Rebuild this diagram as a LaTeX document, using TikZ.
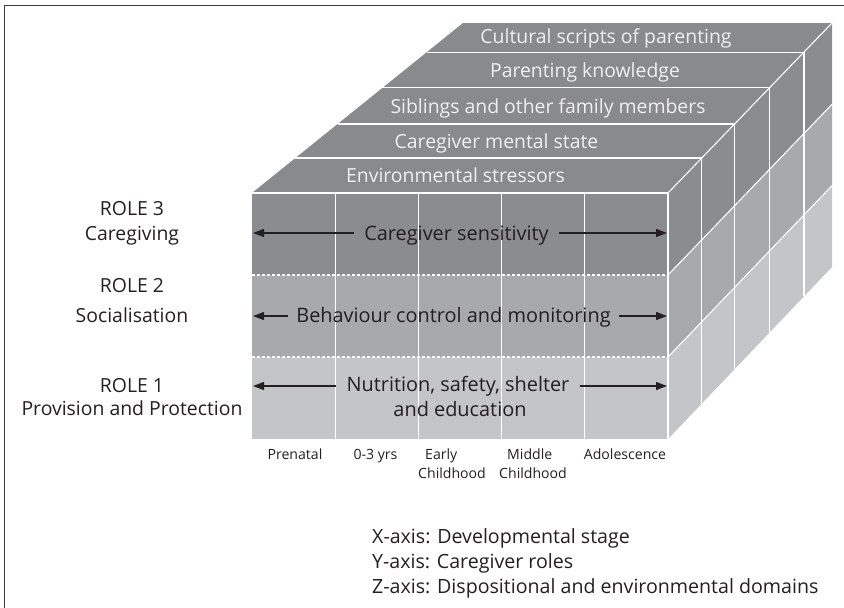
\documentclass[tikz,border=0pt]{standalone}
\usepackage{fontspec}
\setmainfont{Open Sans}
\usetikzlibrary{arrows.meta}
\definecolor{topgray}{HTML}{898A8C}
\definecolor{rowA}{HTML}{8B8C8E}
\definecolor{rowB}{HTML}{A8A9AB}
\definecolor{rowC}{HTML}{C4C5C7}
\definecolor{ink}{HTML}{231F20}
\definecolor{framec}{HTML}{3C3C3C}
\begin{document}
\begin{tikzpicture}[x=1pt,y=-1pt,
  wl/.style={white,line width=1.1pt},
  wd/.style={white,line width=1.1pt,dash pattern=on 3pt off 2pt},
  arr/.style={ink,line width=1.3pt,-{Triangle[length=11pt,width=8pt]}},
  toplab/.style={text=white!94!black,font=\fontsize{19.4}{19.4}\selectfont,anchor=base,inner sep=0pt},
  rowlab/.style={text=ink,font=\fontsize{19.9}{19.9}\selectfont,anchor=base,inner sep=0pt},
  rolelab/.style={text=ink,font=\fontsize{19.4}{19.4}\selectfont,anchor=base,inner sep=0pt},
  stagelab/.style={text=ink,font=\fontsize{14.1}{14.1}\selectfont,inner sep=0pt},
  legendlab/.style={text=ink,font=\fontsize{19.6}{19.6}\selectfont,anchor=base west,inner sep=0pt}
]
\useasboundingbox (0,0) rectangle (844,608);
% frame
\draw[framec,line width=1.4pt] (4.7,608) -- (4.7,5.5) -- (844,5.5);
% cube grid points p-i-j-k : i column, j row, k depth
\foreach \d [count=\k from 0] in {0,0.206,0.406,0.618,0.829,1} {
  \foreach \i in {0,...,5} {
    \foreach \j in {0,...,3} {
      \pgfmathsetmacro\px{(1-\d)*(252+83.2*\i)+\d*(463+73.8*\i)}
      \pgfmathsetmacro\py{(1-\d)*(193+82*\j)+\d*(23+81.333*\j)}
      \coordinate (p-\i-\j-\k) at (\px,\py);
    }
  }
}
% faces
\fill[topgray] (p-0-0-0) -- (p-5-0-0) -- (p-5-0-5) -- (p-0-0-5) -- cycle;
\fill[rowA] (p-0-0-0) rectangle (p-5-1-0);
\fill[rowB] (p-0-1-0) rectangle (p-5-2-0);
\fill[rowC] (p-0-2-0) rectangle (p-5-3-0);
\fill[rowA] (p-5-0-0) -- (p-5-0-5) -- (p-5-1-5) -- (p-5-1-0) -- cycle;
\fill[rowB] (p-5-1-0) -- (p-5-1-5) -- (p-5-2-5) -- (p-5-2-0) -- cycle;
\fill[rowC] (p-5-2-0) -- (p-5-2-5) -- (p-5-3-5) -- (p-5-3-0) -- cycle;
% white lines
\foreach \k in {0,...,4} \draw[wl] (p-0-0-\k) -- (p-5-0-\k);
\draw[wl] (p-5-0-0) -- (p-5-0-5);
\foreach \i in {1,...,5} \draw[wl] (p-\i-0-0) -- (p-\i-3-0);
\foreach \j in {1,2} \draw[wd] (p-0-\j-0) -- (p-5-\j-0);
\foreach \k in {1,...,4} \draw[wl] (p-5-0-\k) -- (p-5-3-\k);
\foreach \j in {1,2} \draw[wl] (p-5-\j-0) -- (p-5-\j-5);
% top face labels
\node[toplab] (z5) at (606,43) {Cultural scripts of parenting};
\node[toplab] (z4) at (585,77) {Parenting knowledge};
\node[toplab] (z3) at (548,113) {Siblings and other family members};
\node[toplab] (z2) at (496.5,148) {Caregiver mental state};
\node[toplab] (z1) at (455.5,182) {Environmental stressors};
% role labels
\node[rolelab] (r3a) at (132,215) {ROLE 3};
\node[rolelab] (r3b) at (132,240) {Caregiving};
\node[rolelab] (r2a) at (132,292) {ROLE 2};
\node[rolelab] (r2b) at (132,322) {Socialisation};
\node[rolelab] (r1a) at (132,392) {ROLE 1};
\node[rolelab] (r1b) at (132,415) {Provision and Protection};
% row labels with arrows
\node[rowlab,inner xsep=10pt] (c3) at (456.5,240) {Caregiver sensitivity};
\node[rowlab,inner xsep=8pt] (c2) at (453.5,322) {Behaviour control and monitoring};
\node[rowlab,inner xsep=10pt] (c1) at (458,391) {Nutrition, safety, shelter};
\node[rowlab] (c1b) at (460,416) {and education};
\coordinate (t3l) at (253,233);
\coordinate (t3r) at (667,233);
\coordinate (t2l) at (253,316);
\coordinate (t2r) at (667,316);
\coordinate (t1l) at (253,386);
\coordinate (t1r) at (667,386);
\draw[arr] (c3.west |- t3l) -- (t3l);
\draw[arr] (c3.east |- t3r) -- (t3r);
\draw[arr] (c2.west |- t2l) -- (t2l);
\draw[arr] (c2.east |- t2r) -- (t2r);
\draw[arr] (c1.west |- t1l) -- (t1l);
\draw[arr] (c1.east |- t1r) -- (t1r);
% stage labels
\node[stagelab,anchor=base] (s1) at (295,459) {Prenatal};
\node[stagelab,anchor=base] (s2) at (375.5,459) {0-3 yrs};
\node[stagelab,anchor=base west] (s3a) at (425,459) {Early};
\node[stagelab,anchor=base west] (s3b) at (418,478) {Childhood};
\node[stagelab,anchor=base west] (s4a) at (507,459) {Middle};
\node[stagelab,anchor=base west] (s4b) at (499,478) {Childhood};
\node[stagelab,anchor=base] (s5) at (625,459) {Adolescence};
% legend
\node[legendlab] (lx) at (372,543) {X-axis: Developmental stage};
\node[legendlab] (ly) at (372,568) {Y-axis: Caregiver roles};
\node[legendlab] (lz) at (372,593) {Z-axis: Dispositional and environmental domains};
\end{tikzpicture}
\end{document}
